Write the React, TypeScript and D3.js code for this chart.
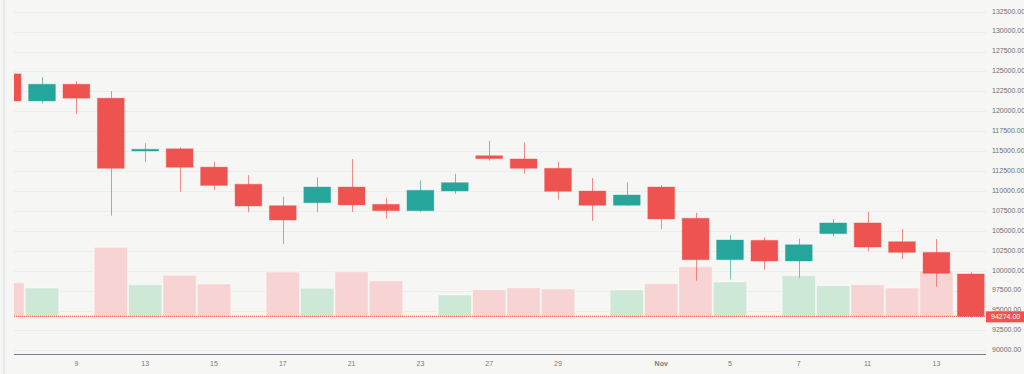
import React, { useEffect, useRef } from "react";
import * as d3 from "d3";

// Daily candles (weekdays only), Oct 7 – Nov 14
const dates = [
  "2025-10-07", "2025-10-08", "2025-10-09", "2025-10-10", "2025-10-13",
  "2025-10-14", "2025-10-15", "2025-10-16", "2025-10-17", "2025-10-20",
  "2025-10-21", "2025-10-22", "2025-10-23", "2025-10-24", "2025-10-27",
  "2025-10-28", "2025-10-29", "2025-10-30", "2025-10-31", "2025-11-03",
  "2025-11-04", "2025-11-05", "2025-11-06", "2025-11-07", "2025-11-10",
  "2025-11-11", "2025-11-12", "2025-11-13", "2025-11-14",
];

const opens = [
  124700, 121300, 123400, 121650, 115020, 115300, 113000, 110850, 108160,
  108530, 110500, 108330, 107530, 110000, 114430, 114020, 112850, 110000,
  108210, 110500, 106580, 101380, 103810, 101220, 104650, 105990, 103640,
  102300, 99590,
];
const highs = [
  125200, 124300, 123800, 122550, 116000, 115500, 113700, 112000, 109290,
  111720, 114000, 109160, 111350, 112170, 116280, 116110, 113680, 111630,
  111090, 110750, 107240, 104480, 104190, 104020, 106490, 107370, 105230,
  103980, 99800,
];
const lows = [
  121000, 121000, 119650, 106900, 113600, 109900, 110130, 107330, 103350,
  107330, 107370, 106530, 107400, 109630, 113800, 112170, 108910, 106240,
  108150, 105200, 98745, 98920, 100130, 99120, 104270, 102430, 101460,
  97990, 94100,
];
const closes = [
  121300, 123400, 121650, 112850, 115240, 112980, 110700, 108120, 106360,
  110500, 108250, 107530, 110090, 111050, 114060, 112850, 109960, 108210,
  109500, 106490, 101380, 103850, 101220, 103260, 105990, 102970, 102300,
  99670, 94274,
];
const volumes = [
  34300, 29000, 0, 69700, 32300, 41700, 33000, 0, 45000, 28700, 45300, 36300,
  0, 22000, 27300, 29300, 28000, 0, 27000, 33300, 50300, 35000, 0, 41300,
  31300, 32300, 29000, 46000, 0,
];

const tickDates = [
  "2025-10-09", "2025-10-13", "2025-10-15", "2025-10-17", "2025-10-21",
  "2025-10-23", "2025-10-27", "2025-10-29", "2025-11-03", "2025-11-05",
  "2025-11-07", "2025-11-11", "2025-11-13",
];
const tickLabels = ["9", "13", "15", "17", "21", "23", "27", "29", "Nov", "5", "7", "11", "13"];

const priceTicks = [
  90000, 92500, 95000, 97500, 100000, 102500, 105000, 107500, 110000, 112500,
  115000, 117500, 120000, 122500, 125000, 127500, 130000, 132500,
];

const lastPrice = 94274;

const WIDTH = 1024;
const HEIGHT = 374;
const UP = "#26a69a";
const DOWN = "#ef5350";
const BG = "#f6f7f5";

const CandleChart: React.FC = () => {
  const svgRef = useRef<SVGSVGElement>(null);

  useEffect(() => {
    if (!svgRef.current) return;
    const svg = d3.select(svgRef.current);
    svg.selectAll("*").remove();

    const plotLeft = 14;
    const plotRight = 986;
    const axisY = 354;

    const x = d3.scaleBand<string>().domain(dates).range([-9.6, 988]).padding(0);
    const step = x.step();
    const cx = (d: string) => (x(d) ?? 0) + step / 2;

    const y = d3.scaleLinear().domain([90000, 132500]).range([350.4, 11.7]);

    const vol = d3
      .scaleLinear()
      .domain([0, d3.max(volumes) ?? 1])
      .range([317, 247.3]);

    svg.append("rect").attr("width", WIDTH).attr("height", HEIGHT).attr("fill", BG);

    // left border strip
    svg.append("rect").attr("x", 3).attr("y", 0).attr("width", 2).attr("height", HEIGHT).attr("fill", "#e7e9ec");

    svg
      .append("defs")
      .append("clipPath")
      .attr("id", "plot-clip")
      .append("rect")
      .attr("x", plotLeft)
      .attr("y", 0)
      .attr("width", plotRight - plotLeft)
      .attr("height", axisY);

    // grid
    svg
      .append("g")
      .selectAll("line")
      .data(priceTicks)
      .join("line")
      .attr("x1", plotLeft)
      .attr("x2", plotRight)
      .attr("y1", (d) => Math.round(y(d)) + 0.5)
      .attr("y2", (d) => Math.round(y(d)) + 0.5)
      .attr("stroke", "#eceeec")
      .attr("stroke-width", 1);

    const plot = svg.append("g").attr("clip-path", "url(#plot-clip)");

    // volume
    const rows = dates.map((d, i) => ({
      date: d,
      o: opens[i],
      h: highs[i],
      l: lows[i],
      c: closes[i],
      v: volumes[i],
    }));

    plot
      .append("g")
      .selectAll("rect")
      .data(rows.filter((r) => r.v > 0))
      .join("rect")
      .attr("x", (d) => (x(d.date) ?? 0) + 0.5)
      .attr("width", step - 1)
      .attr("y", (d) => vol(d.v))
      .attr("height", (d) => vol(0) - vol(d.v))
      .attr("fill", (d) => (d.c >= d.o ? "#cde8d6" : "#f7d4d3"))
      .attr("stroke", "#ffffff")
      .attr("stroke-opacity", 0.45)
      .attr("stroke-width", 1);

    // price line
    plot
      .append("line")
      .attr("x1", plotLeft)
      .attr("x2", plotRight)
      .attr("y1", y(lastPrice))
      .attr("y2", y(lastPrice))
      .attr("stroke", DOWN)
      .attr("stroke-width", 1)
      .attr("stroke-dasharray", "1,1");

    // wicks
    plot
      .append("g")
      .selectAll("line")
      .data(rows)
      .join("line")
      .attr("x1", (d) => Math.round(cx(d.date)) + 0.5)
      .attr("x2", (d) => Math.round(cx(d.date)) + 0.5)
      .attr("y1", (d) => y(d.h))
      .attr("y2", (d) => y(d.l))
      .attr("stroke", (d) => (d.c >= d.o ? UP : DOWN))
      .attr("stroke-opacity", 0.65)
      .attr("stroke-width", 1);

    // bodies
    const bodyW = step * 0.78;
    plot
      .append("g")
      .selectAll("rect")
      .data(rows)
      .join("rect")
      .attr("x", (d) => cx(d.date) - bodyW / 2)
      .attr("width", bodyW)
      .attr("y", (d) => y(Math.max(d.o, d.c)))
      .attr("height", (d) => Math.max(1.5, Math.abs(y(d.o) - y(d.c))))
      .attr("fill", (d) => (d.c >= d.o ? UP : DOWN))
      .attr("stroke", (d) => (d.c >= d.o ? UP : DOWN))
      .attr("stroke-opacity", 0.35)
      .attr("stroke-width", 1);

    // bottom axis
    svg
      .append("line")
      .attr("x1", plotLeft)
      .attr("x2", plotRight)
      .attr("y1", axisY + 0.5)
      .attr("y2", axisY + 0.5)
      .attr("stroke", "#7d7d9b")
      .attr("stroke-width", 1);

    svg
      .append("g")
      .selectAll("text")
      .data(tickDates)
      .join("text")
      .attr("x", (d) => cx(d))
      .attr("y", 364)
      .attr("text-anchor", "middle")
      .attr("dominant-baseline", "middle")
      .attr("font-size", "7px")
      .attr("font-weight", (_, i) => (tickLabels[i] === "Nov" ? 700 : 400))
      .attr("fill", "#7a7a7a")
      .text((_, i) => tickLabels[i]);

    // right price labels
    svg
      .append("g")
      .selectAll("text")
      .data(priceTicks)
      .join("text")
      .attr("x", 992)
      .attr("y", (d) => y(d))
      .attr("dominant-baseline", "middle")
      .attr("font-size", "7px")
      .attr("fill", "#6e6e6e")
      .text((d) => d.toFixed(2));

    // last price tag
    const tagY = y(lastPrice);
    svg
      .append("rect")
      .attr("x", 986)
      .attr("y", tagY - 5)
      .attr("width", 40)
      .attr("height", 11)
      .attr("fill", DOWN);
    svg
      .append("text")
      .attr("x", 991)
      .attr("y", tagY + 0.5)
      .attr("dominant-baseline", "middle")
      .attr("font-size", "7px")
      .attr("fill", "#ffffff")
      .text(lastPrice.toFixed(2));
  }, []);

  return (
    <svg
      ref={svgRef}
      width={WIDTH}
      height={HEIGHT}
      viewBox={`0 0 ${WIDTH} ${HEIGHT}`}
      style={{
        position: "absolute",
        left: 0,
        top: 0,
        fontFamily: "'Liberation Sans', Arial, sans-serif",
      }}
    />
  );
};

export default function App() {
  return <CandleChart />;
}
